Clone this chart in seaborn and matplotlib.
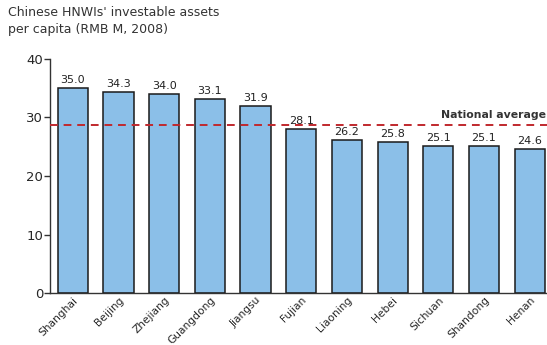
import matplotlib
matplotlib.use("Agg")
import matplotlib.pyplot as plt
import seaborn as sns
import pandas as pd

provinces = ["Shanghai", "Beijing", "Zhejiang", "Guangdong", "Jiangsu", "Fujian",
             "Liaoning", "Hebei", "Sichuan", "Shandong", "Henan"]
values = [35.0, 34.3, 34.0, 33.1, 31.9, 28.1, 26.2, 25.8, 25.1, 25.1, 24.6]
national_average = 28.7
title_text = "Chinese HNWIs' investable assets\nper capita (RMB M, 2008)"
yticks = [0, 10, 20, 30, 40]

sns.set_style("white")
plt.rcParams['font.family'] = ['DejaVu Sans']

df = pd.DataFrame({"province": provinces, "value": values})

fig = plt.figure(figsize=(5.47, 3.45), dpi=100)
ax = fig.add_axes([0.0914, 0.1507, 0.9086, 0.6783])
sns.barplot(data=df, x="province", y="value", color="#8BBFE8", saturation=1,
            edgecolor="#1a1a1a", linewidth=1.1, width=0.66, ax=ax)

for i, v in enumerate(values):
    ax.text(i, v + 0.5, f"{v:.1f}", ha="center", va="bottom", fontsize=8, color="#222222")

ax.axhline(national_average, color="#C0282D", linestyle=(0, (4, 3)), linewidth=1.4, zorder=5)
ax.text(10.35, national_average + 0.9, "National average", ha="right", va="bottom",
        fontsize=7.8, fontweight="bold", color="#333333")

ax.set_xlim(-0.5, 10.38)
ax.set_ylim(0, 40)
ax.set_yticks(yticks)
ax.set_xlabel("")
ax.set_ylabel("")
ax.tick_params(axis="y", direction="out", length=4, width=1, color="#333333",
               labelsize=9.5, pad=1, left=True)
ax.tick_params(axis="x", length=0, labelsize=7.7, pad=1.5)
plt.setp(ax.get_xticklabels(), rotation=45, ha="right", rotation_mode="anchor")
for s in ["top", "right"]:
    ax.spines[s].set_visible(False)
for s in ["left", "bottom"]:
    ax.spines[s].set_color("#333333")
    ax.spines[s].set_linewidth(1)

fig.text(8 / 547, 1 - 6 / 345, title_text, ha="left", va="top", fontsize=9,
         color="#333333", linespacing=1.35)

fig.savefig("out.png", dpi=100)
